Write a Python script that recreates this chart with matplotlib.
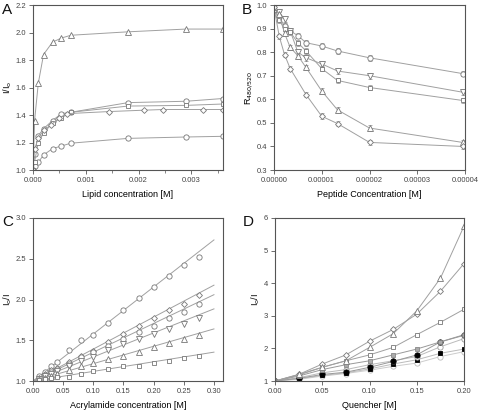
import matplotlib
matplotlib.use("Agg")
import matplotlib.pyplot as plt
import numpy as np

plt.rcParams['font.family'] = ['Liberation Sans', 'DejaVu Sans']

# ---------------- Panel A data ----------------
a_x = [0, 0.00003, 0.0001, 0.0002, 0.00037, 0.00054, 0.00072, 0.0018, 0.0029, 0.0036]
a_tri = [1.0, 1.36, 1.63, 1.84, 1.93, 1.96, 1.98, 2.005, 2.025, 2.025]
a_circ_low = [1.0, 1.03, 1.055, 1.11, 1.155, 1.175, 1.195, 1.23, 1.24, 1.245]
a_circ_up = [1.0, 1.12, 1.25, 1.30, 1.36, 1.41, 1.42, 1.49, 1.50, 1.52]
a_sq = [1.0, 1.06, 1.20, 1.27, 1.34, 1.38, 1.42, 1.465, 1.47, 1.48]
a_dia_x = [0, 0.00003, 0.0001, 0.0002, 0.00035, 0.0005, 0.00065, 0.00144, 0.0021, 0.00247, 0.00323, 0.0036]
a_dia = [1.0, 1.15, 1.23, 1.29, 1.33, 1.38, 1.41, 1.425, 1.435, 1.44, 1.44, 1.44]

# ---------------- Panel B data ----------------
b_x = [0, 1.1e-6, 2.2e-6, 3.4e-6, 5.0e-6, 6.7e-6, 1.0e-5, 1.33e-5, 2.0e-5, 3.95e-5]
b_circ = [0.98, 0.95, 0.91, 0.89, 0.87, 0.84, 0.826, 0.805, 0.776, 0.709]
b_vtri = [0.99, 0.97, 0.94, 0.89, 0.80, 0.776, 0.75, 0.72, 0.70, 0.63]
b_sq = [0.98, 0.935, 0.90, 0.885, 0.84, 0.805, 0.73, 0.68, 0.65, 0.595]
b_tri = [0.99, 0.96, 0.88, 0.82, 0.785, 0.735, 0.635, 0.555, 0.478, 0.417]
b_dia_x = [0, 1.1e-6, 2.2e-6, 3.4e-6, 6.7e-6, 1.0e-5, 1.33e-5, 2.0e-5, 3.95e-5]
b_dia = [0.99, 0.867, 0.79, 0.73, 0.62, 0.528, 0.497, 0.417, 0.40]
b_err = 0.012

# ---------------- Panel C data ----------------
c_x = [0.01, 0.02, 0.03, 0.04, 0.06, 0.08, 0.10, 0.125, 0.15, 0.175, 0.20, 0.225, 0.25, 0.275]
c_circ1 = [1.06, 1.11, 1.19, 1.23, 1.38, 1.50, 1.57, 1.71, 1.87, 2.02, 2.15, 2.29, 2.42, 2.52]
c_dia = [1.04, 1.08, 1.13, 1.16, 1.23, 1.31, 1.37, 1.48, 1.58, 1.68, 1.77, 1.87, 1.95, 2.06]
c_circ2 = [1.03, 1.07, 1.11, 1.15, 1.21, 1.29, 1.35, 1.43, 1.51, 1.60, 1.68, 1.77, 1.85, 1.95]
c_vtri = [1.03, 1.06, 1.09, 1.12, 1.18, 1.25, 1.30, 1.38, 1.45, 1.52, 1.58, 1.64, 1.70, 1.77]
c_tri = [1.02, 1.04, 1.06, 1.09, 1.14, 1.18, 1.22, 1.27, 1.31, 1.36, 1.42, 1.47, 1.52, 1.57]
c_sq = [1.01, 1.02, 1.04, 1.05, 1.05, 1.09, 1.12, 1.15, 1.18, 1.19, 1.22, 1.25, 1.28, 1.31]
c_ksv = [5.77, 3.92, 3.53, 2.95, 2.13, 1.18]

# ---------------- Panel D data ----------------
d_x = [0, 0.025, 0.05, 0.075, 0.10, 0.125, 0.15, 0.175, 0.20]
d_tri = [1, 1.20, 1.42, 1.62, 2.03, 2.45, 3.15, 4.15, 5.75]
d_dia = [1, 1.20, 1.52, 1.80, 2.22, 2.58, 3.05, 3.75, 4.60]
d_sq = [1, 1.18, 1.42, 1.62, 1.80, 2.03, 2.42, 2.80, 3.20]
d_gsq = [1, 1.15, 1.35, 1.50, 1.62, 1.80, 1.98, 2.20, 2.40]
d_bcirc = [1, 1.08, 1.20, 1.27, 1.42, 1.60, 1.80, 2.20, 2.42]
d_circ = [1, 1.10, 1.25, 1.35, 1.50, 1.62, 1.75, 2.05, 2.30]
d_bsq = [1, 1.07, 1.17, 1.25, 1.37, 1.52, 1.65, 1.85, 1.98]
d_lcirc = [1, 1.05, 1.15, 1.23, 1.33, 1.45, 1.55, 1.75, 1.90]

W, H = 478, 412
fig = plt.figure(figsize=(W / 100, H / 100), dpi=100)

def ax_px(x0, y0, x1, y1):
    return fig.add_axes([x0 / W, 1 - y1 / H, (x1 - x0) / W, (y1 - y0) / H])

axA = ax_px(33, 5, 223, 170)
axB = ax_px(274, 5, 465, 170)
axC = ax_px(33, 218, 223, 381)
axD = ax_px(275, 218, 464, 381)

spine_c = '#555555'
line_c = '#a0a0a0'
mk_c = '#777777'
tick_fs = 5.5
lab_fs = 6.5

for ax in (axA, axB, axC, axD):
    for s in ax.spines.values():
        s.set_color(spine_c)
        s.set_linewidth(0.8)
    ax.tick_params(axis='both', direction='out', length=3, width=0.6, color=spine_c,
                   labelsize=tick_fs, labelcolor='#444444', pad=2)
    ax.tick_params(which='minor', direction='out', length=2, width=0.5, color=spine_c)

MS = {'o': 3.8, '^': 3.9, 'v': 3.9, 's': 3.3, 'D': 3.0}
def mk(m):
    return dict(marker=m, mfc='white', mec=mk_c, mew=0.6, ms=MS[m], color=line_c, lw=0.7)

# ---- A ----
axA.plot(a_x, a_tri, **mk('^'))
axA.plot(a_x, a_circ_low, **mk('o'))
axA.plot(a_x, a_circ_up, **mk('o'))
axA.plot(a_x, a_sq, **mk('s'))
axA.plot(a_dia_x, a_dia, **mk('D'))
axA.set_xlim(0, 0.0036)
axA.set_ylim(1.0, 2.2)
axA.set_xticks([0, 0.001, 0.002, 0.003])
axA.set_xticklabels(['0.000', '0.001', '0.002', '0.003'])
axA.set_xticks([0.0005, 0.0015, 0.0025, 0.0035], minor=True)
axA.set_yticks(np.arange(1.0, 2.21, 0.2))
axA.set_yticklabels([f'{v:.1f}' for v in np.arange(1.0, 2.21, 0.2)])
axA.set_xlabel('Lipid concentration [M]', fontsize=lab_fs, labelpad=4)
axA.set_ylabel('I/I$_\\mathrm{o}$', fontsize=lab_fs, labelpad=1)

# ---- B ----
for yv, m, xs in ((b_circ, 'o', b_x), (b_vtri, 'v', b_x), (b_sq, 's', b_x),
                  (b_tri, '^', b_x), (b_dia, 'D', b_dia_x)):
    axB.errorbar(xs, yv, yerr=b_err, ecolor=line_c, elinewidth=0.6, capsize=1.2, **mk(m))
axB.set_xlim(0, 4e-5)
axB.set_ylim(0.3, 1.0)
axB.set_xticks([0, 1e-5, 2e-5, 3e-5, 4e-5])
axB.set_xticklabels(['0.00000', '0.00001', '0.00002', '0.00003', '0.00004'])
axB.set_yticks(np.arange(0.3, 1.01, 0.1))
axB.set_yticklabels([f'{v:.1f}' for v in np.arange(0.3, 1.01, 0.1)])
axB.set_xlabel('Peptide Concentration [M]', fontsize=lab_fs, labelpad=4)
axB.set_ylabel('R$_{480/520}$', fontsize=lab_fs, labelpad=1)

# ---- C ----
c_series = [(c_circ1, 'o'), (c_dia, 'D'), (c_circ2, 'o'), (c_vtri, 'v'), (c_tri, '^'), (c_sq, 's')]
xfit = np.array([0.0, 0.30])
for (yv, m), k in zip(c_series, c_ksv):
    axC.plot(xfit, 1 + k * xfit, color=line_c, lw=0.7)
    axC.plot(c_x, yv, **{**mk(m), 'ls': 'none'})
axC.set_xlim(0, 0.315)
axC.set_ylim(1.0, 3.0)
axC.set_xticks(np.arange(0, 0.301, 0.05))
axC.set_xticklabels([f'{v:.2f}' for v in np.arange(0, 0.301, 0.05)])
axC.set_yticks(np.arange(1.0, 3.01, 0.5))
axC.set_yticklabels([f'{v:.1f}' for v in np.arange(1.0, 3.01, 0.5)])
axC.set_xlabel('Acrylamide concentration [M]', fontsize=lab_fs, labelpad=4)
axC.set_ylabel('I$_\\mathrm{o}$/I', fontsize=lab_fs, labelpad=1)

# ---- D ----
d_series = [
    (d_lcirc, 'o', 'white', '#bbbbbb', '#cccccc'),
    (d_bsq, 's', 'black', 'black', '#bbbbbb'),
    (d_circ, 'o', 'white', '#999999', '#bbbbbb'),
    (d_bcirc, 'o', 'black', 'black', '#999999'),
    (d_gsq, 's', '#aaaaaa', '#888888', '#999999'),
    (d_sq, 's', 'white', mk_c, line_c),
    (d_dia, 'D', 'white', mk_c, line_c),
    (d_tri, '^', 'white', mk_c, line_c),
]
for yv, m, fc, ec, lc in d_series:
    axD.plot(d_x, yv, **{**mk(m), 'mfc': fc, 'mec': ec, 'color': lc})
axD.set_xlim(0, 0.20)
axD.set_ylim(1, 6)
axD.set_xticks(np.arange(0, 0.201, 0.05))
axD.set_xticklabels([f'{v:.2f}' for v in np.arange(0, 0.201, 0.05)])
axD.set_yticks(range(1, 7))
axD.set_xlabel('Quencher [M]', fontsize=lab_fs, labelpad=4)
axD.set_ylabel('I$_\\mathrm{o}$/I', fontsize=lab_fs, labelpad=1)

# panel letters
for lab, x, y in (('A', 2, 10), ('B', 242, 10), ('C', 2, 222), ('D', 243, 222)):
    fig.text(x / W, 1 - y / H, lab, fontsize=11, ha='left', va='center', color='#111111')

fig.savefig('out.png', dpi=100)
